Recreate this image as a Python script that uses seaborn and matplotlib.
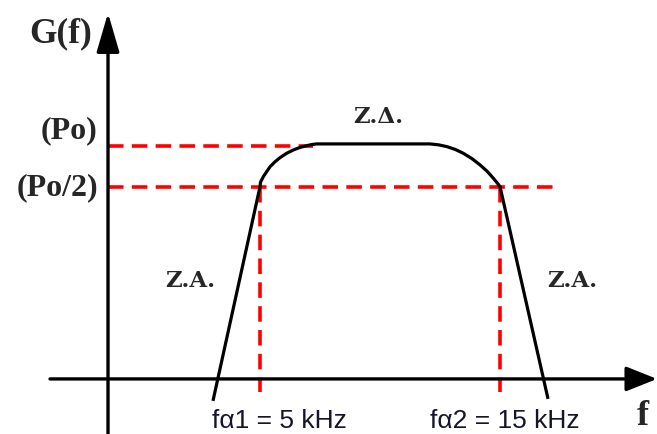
import matplotlib
matplotlib.use("Agg")
import matplotlib.pyplot as plt
import seaborn as sns

# Band-pass response sketch: frequency in kHz, gain level in dB relative to Po
freq_khz = [3.04, 5.0, 5.02, 5.14, 5.27, 5.42, 5.62, 5.83, 6.10, 6.39,
            6.67, 6.95, 7.15, 7.36,
            12.08, 12.44, 12.78, 13.13, 13.47, 13.83, 14.17, 14.46, 14.72,
            14.86, 15.0, 17.0]
gain_db = [-18.99, -3.0, -2.67, -2.25, -1.90, -1.51, -1.15, -0.84, -0.52, -0.26,
           -0.07, 0.06, 0.14, 0.19,
           0.19, 0.12, -0.01, -0.22, -0.51, -0.91, -1.38, -1.85, -2.37,
           -2.67, -3.0, -18.84]

f_cut = [5, 15]                 # fα1, fα2 in kHz
level_po = 0.0                  # (Po)
level_half = -3.0               # (Po/2), half power
cut_labels = ["fα1 = 5 kHz", "fα2 = 15 kHz"]
level_labels = ["(Po)", "(Po/2)"]
zone_labels = ["Z.A.", "Z.Δ.", "Z.A."]

# drawing frame
x_min, x_max = -5.833, 21.54
y_min, y_max = -21.46, 10.93
y_axis_at = -1.333
x_axis_at = -17.35

sns.set_style("white")
fig = plt.figure(figsize=(6.57, 4.34), dpi=100)
ax = fig.add_axes([0, 0, 1, 1])
ax.set_xlim(x_min, x_max)
ax.set_ylim(y_min, y_max)
ax.set_axis_off()

red = "#ff0000"
dash = (0, (4.3, 2.3))

# reference levels and cut-off verticals
ax.plot([y_axis_at, 7.2], [level_po, level_po], color=red, lw=2.6, ls=dash, zorder=2)
ax.plot([y_axis_at, 17.2], [level_half, level_half], color=red, lw=2.6, ls=dash, zorder=2)
for fc in f_cut:
    ax.plot([fc, fc], [level_half, -18.32], color=red, lw=2.6, ls=dash, zorder=2)

# response curve
sns.lineplot(x=freq_khz, y=gain_db, sort=False, estimator=None,
             color="black", lw=2.3, ax=ax, zorder=3,
             solid_joinstyle="round", solid_capstyle="butt")

# axes with arrow heads
ax.annotate("", xy=(x_max, x_axis_at), xytext=(-3.75, x_axis_at),
            arrowprops=dict(arrowstyle="-|>,head_length=0.95,head_width=0.38",
                            mutation_scale=20, lw=2.4, color="black",
                            shrinkA=0, shrinkB=0), zorder=4)
ax.annotate("", xy=(y_axis_at, 9.96), xytext=(y_axis_at, y_min),
            arrowprops=dict(arrowstyle="-|>,head_length=1.2,head_width=0.35",
                            mutation_scale=20, lw=2.4, color="black",
                            shrinkA=0, shrinkB=0), zorder=4)

serif = "Liberation Serif"
ax.text(-2.0, 7.76, "G(f)", family=serif, weight="bold", fontsize=25.5,
        ha="right", va="baseline")
ax.text(-1.79, 0.63, level_labels[0], family=serif, weight="bold", fontsize=23,
        ha="right", va="baseline")
ax.text(-1.75, -3.62, level_labels[1], family=serif, weight="bold", fontsize=23,
        ha="right", va="baseline")
ax.text(20.96, -20.82, "f", family=serif, weight="bold", fontsize=26,
        ha="center", va="baseline")

zone_font = "DejaVu Serif"
ax.text(2.08, -10.49, zone_labels[0], family=zone_font, weight="bold",
        fontsize=16.5, ha="center", va="baseline")
ax.text(9.92, 1.75, zone_labels[1], family=zone_font, weight="bold",
        fontsize=16.5, ha="center", va="baseline")
ax.text(18.0, -10.49, zone_labels[2], family=zone_font, weight="bold",
        fontsize=16.5, ha="center", va="baseline")

for xc, lab in zip([5.83, 15.21], cut_labels):
    ax.text(xc, -21.01, lab, family="Liberation Sans", fontsize=19,
            color="#15152a", ha="center", va="baseline")

fig.savefig("out.png", dpi=100, facecolor="white")
